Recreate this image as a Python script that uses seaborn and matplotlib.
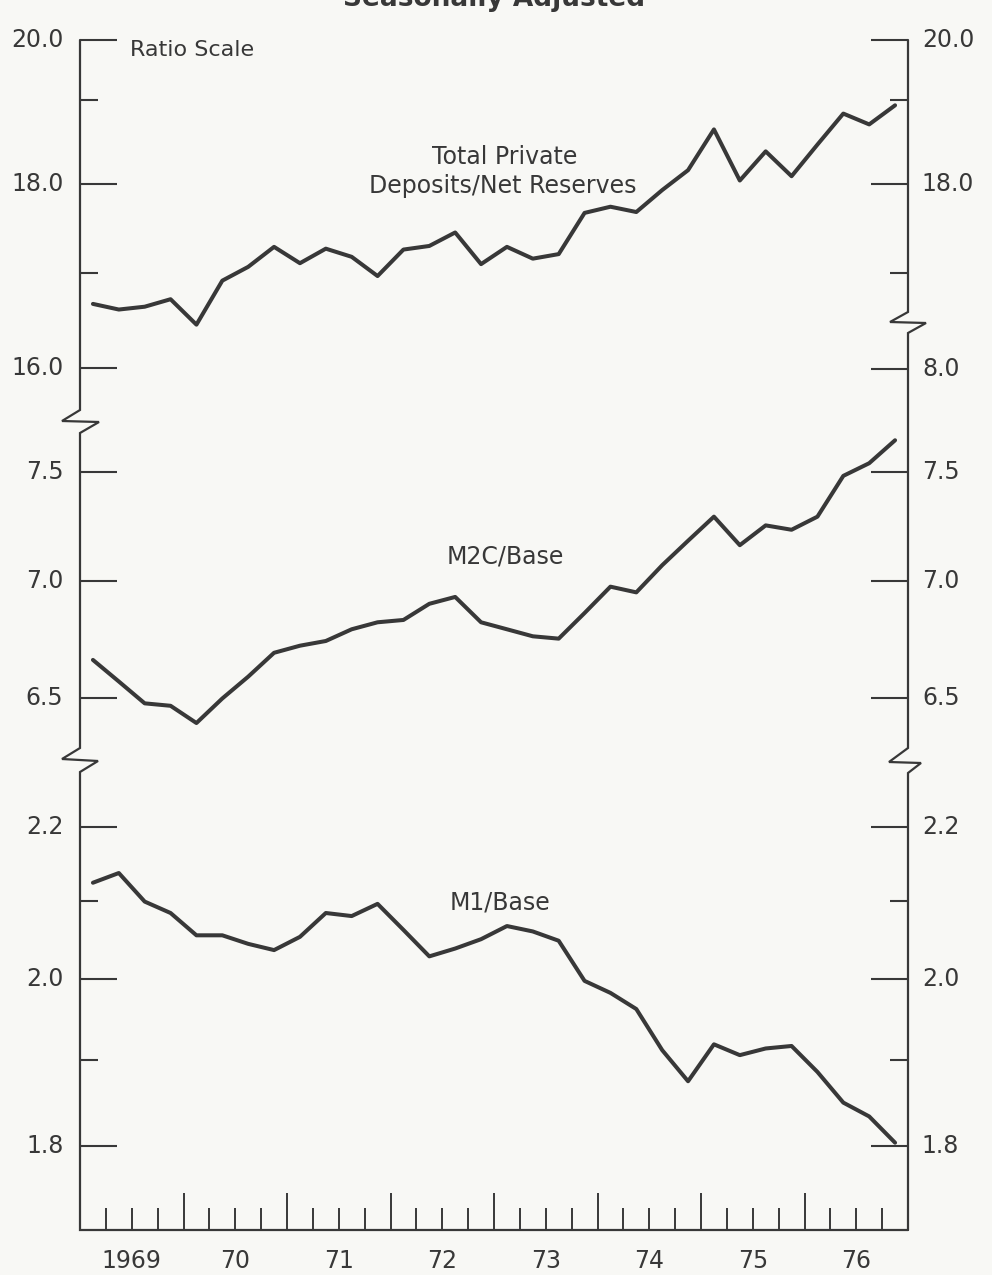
import numpy as np
import pandas as pd
import matplotlib
matplotlib.use("Agg")
import matplotlib.pyplot as plt
import seaborn as sns

# ================= DATA (quarterly averages, 1969Q1 - 1976Q4) =================
YEARS = [1969, 1970, 1971, 1972, 1973, 1974, 1975, 1976]
YEAR_LABELS = ["1969", "70", "71", "72", "73", "74", "75", "76"]
QUARTERS = [f"{y}Q{q}" for y in YEARS for q in (1, 2, 3, 4)]

DEPOSITS_RESERVES = [16.67, 16.61, 16.64, 16.72, 16.45, 16.92, 17.07, 17.29,
                     17.11, 17.27, 17.18, 16.97, 17.26, 17.30, 17.45, 17.10,
                     17.29, 17.16, 17.21, 17.67, 17.74, 17.68, 17.93, 18.16,
                     18.64, 18.04, 18.38, 18.09, 18.46, 18.83, 18.70, 18.93]
M2C_BASE = [6.66, 6.57, 6.48, 6.47, 6.40, 6.50, 6.59, 6.69,
            6.72, 6.74, 6.79, 6.82, 6.83, 6.90, 6.93, 6.82,
            6.79, 6.76, 6.75, 6.86, 6.975, 6.95, 7.07, 7.18,
            7.29, 7.16, 7.25, 7.23, 7.29, 7.48, 7.54, 7.65]
M1_BASE = [2.124, 2.137, 2.099, 2.084, 2.055, 2.055, 2.044, 2.036,
           2.053, 2.084, 2.080, 2.096, 2.062, 2.028, 2.038, 2.050,
           2.067, 2.060, 2.048, 1.997, 1.982, 1.962, 1.912, 1.875,
           1.919, 1.906, 1.914, 1.917, 1.886, 1.850, 1.834, 1.804]

# tick lists per panel: (value or "top", label or None for minor)
TOP_LEFT = [("top", "20.0"), (19, None), (18, "18.0"), (17, None), (16, "16.0")]
TOP_RIGHT = [("top", "20.0"), (19, None), (18, "18.0"), (17, None)]
MID_LEFT = [(7.5, "7.5"), (7.0, "7.0"), (6.5, "6.5")]
MID_RIGHT = [(8.0, "8.0"), (7.5, "7.5"), (7.0, "7.0"), (6.5, "6.5")]
LOW_LEFT = [(2.2, "2.2"), (2.1, None), (2.0, "2.0"), (1.9, None), (1.8, "1.8")]
LOW_RIGHT = [(2.2, "2.2"), (2.1, None), (2.0, "2.0"), (1.9, None), (1.8, "1.8")]

# ================= LAYOUT (pixels) =================
W, H = 992, 1275
X0, X1 = 80, 908        # frame left / right
Y0, Y1 = 40, 1230       # frame top / bottom
INK = "#383838"
PAPER = "#f8f8f5"
FS = 17

sns.set_style("white")
plt.rcParams["font.family"] = ["DejaVu Sans"]


def fx(px):
    return px / W


def fy(py):
    return 1 - py / H


periods = pd.PeriodIndex(QUARTERS, freq="Q")
df = pd.DataFrame({
    "t": periods.year + (periods.quarter - 0.5) / 4,
    "deposits": DEPOSITS_RESERVES,
    "m2c": M2C_BASE,
    "m1": M1_BASE,
})

# each panel: column, anchor value at pixel row, pixels per ln-unit
PANELS = [
    dict(col="deposits", anchor=(18.0, 184), k=1562, left=TOP_LEFT, right=TOP_RIGHT),
    dict(col="m2c", anchor=(7.0, 581), k=1585, left=MID_LEFT, right=MID_RIGHT),
    dict(col="m1", anchor=(2.0, 978.5), k=1592, left=LOW_LEFT, right=LOW_RIGHT),
]

fig = plt.figure(figsize=(W / 100, H / 100), dpi=100, facecolor=PAPER)
rect = [fx(X0), fy(Y1), fx(X1) - fx(X0), fy(Y0) - fy(Y1)]
frame_w = X1 - X0


def draw_ytick(ax, val, label, side):
    L = (18 if label is None else 37) / frame_w
    if val == "top":
        tr, y = ax.transAxes, 1.0
    else:
        tr, y = ax.get_yaxis_transform(), val
    xs = [0, L] if side == "left" else [1 - L, 1]
    ax.plot(xs, [y, y], transform=tr, color=INK, lw=1.5, clip_on=False,
            solid_capstyle="butt")
    if label:
        if side == "left":
            ax.annotate(label, xy=(0, y), xycoords=tr, xytext=(-12, 0),
                        textcoords="offset points", ha="right", va="center",
                        fontsize=FS, color=INK)
        else:
            ax.annotate(label, xy=(1, y), xycoords=tr, xytext=(10, 0),
                        textcoords="offset points", ha="left", va="center",
                        fontsize=FS, color=INK)


axes = []
for p in PANELS:
    ax = fig.add_axes(rect, facecolor="none")
    sns.lineplot(data=df, x="t", y=p["col"], ax=ax, color=INK, linewidth=2.9)
    ax.set_yscale("log")
    v0, p0 = p["anchor"]
    ax.set_ylim(v0 * np.exp(-(Y1 - p0) / p["k"]), v0 * np.exp((p0 - Y0) / p["k"]))
    ax.set_xlim(YEARS[0], YEARS[-1] + 1)
    ax.set(xlabel="", ylabel="")
    for s in ax.spines.values():
        s.set_visible(False)
    ax.tick_params(axis="y", which="both", left=False, right=False,
                   labelleft=False, labelright=False)
    ax.tick_params(axis="x", which="both", bottom=False, labelbottom=False)
    for val, lab in p["left"]:
        draw_ytick(ax, val, lab, "left")
    for val, lab in p["right"]:
        draw_ytick(ax, val, lab, "right")
    axes.append(ax)

# bottom time axis
bax = axes[-1]
bax.set_xticks(YEARS[1:])
bax.set_xticks([y + q / 4 for y in YEARS for q in (1, 2, 3)], minor=True)
bax.tick_params(axis="x", which="major", bottom=True, direction="in",
                length=27, width=1.4, color=INK, labelbottom=False)
bax.tick_params(axis="x", which="minor", bottom=True, direction="in",
                length=16, width=1.4, color=INK)
for y, lab in zip(YEARS, YEAR_LABELS):
    bax.annotate(lab, xy=(y + 0.5, 0), xycoords=("data", "axes fraction"),
                 xytext=(0, -22), textcoords="offset points", ha="center",
                 va="center", fontsize=FS, color=INK)

# frame with break marks
left_path = [(X0, Y0), (X0, 410), (62, 421), (99, 422), (X0, 433),
             (X0, 748), (62, 759), (98, 761), (X0, 772), (X0, Y1), (X1, Y1)]
right_path = [(X1, Y0), (X1, 312), (890, 322), (926, 323), (X1, 333),
              (X1, 748), (889, 762), (921, 763), (X1, 773), (X1, Y1)]
for path in (left_path, right_path):
    xs = [fx(a) for a, b in path]
    ys = [fy(b) for a, b in path]
    bax.plot(xs, ys, transform=fig.transFigure, color=INK, lw=1.6,
             clip_on=False, solid_joinstyle="miter")

# texts
fig.text(fx(494), fy(6), "Seasonally Adjusted", ha="center", va="baseline",
         fontsize=19, fontweight="bold", color=INK)
fig.text(fx(130), fy(50), "Ratio Scale", ha="left", va="center",
         fontsize=16, color=INK)
fig.text(fx(505), fy(157), "Total Private", ha="center", va="center",
         fontsize=FS, color=INK)
fig.text(fx(503), fy(186), "Deposits/Net Reserves", ha="center", va="center",
         fontsize=FS, color=INK)
fig.text(fx(505), fy(556), "M2C/Base", ha="center", va="center",
         fontsize=FS, color=INK)
fig.text(fx(500), fy(903), "M1/Base", ha="center", va="center",
         fontsize=FS, color=INK)

fig.savefig("out.png", dpi=100, facecolor=PAPER)
